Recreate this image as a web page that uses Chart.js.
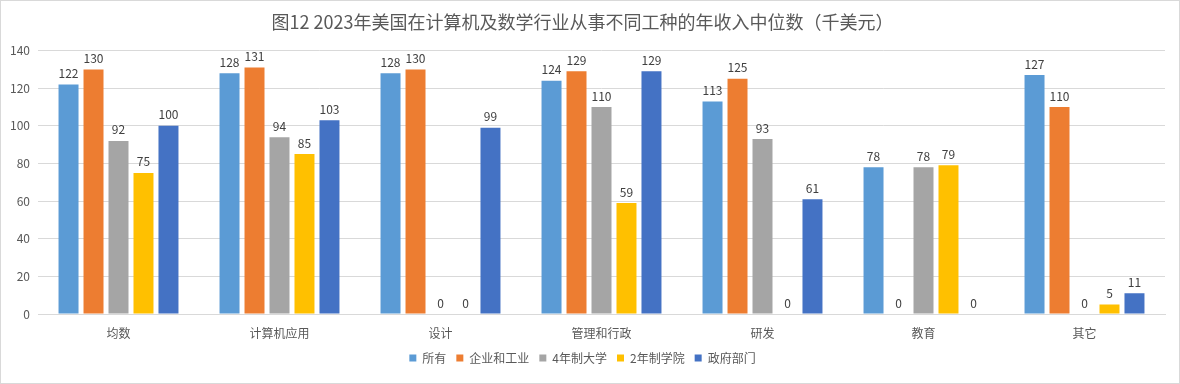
<!DOCTYPE html>
<html lang="zh">
<head>
  <meta charset="UTF-8">
  <title>图12</title>
  <script src="https://cdn.jsdelivr.net/npm/chart.js"></script>
  <style>
    body { margin: 0; background: #fff; }
  </style>
</head>
<body>
  <canvas id="salary" width="1180" height="384"></canvas>

  <script>
    const categories = ['均数', '计算机应用', '设计', '管理和行政', '研发', '教育', '其它'];
    const seriesNames = ['所有', '企业和工业', '4年制大学', '2年制学院', '政府部门'];
    const allJobs = [122, 128, 128, 124, 113, 78, 127];
    const industry = [130, 131, 130, 129, 125, 0, 110];
    const university4 = [92, 94, 0, 110, 93, 78, 0];
    const college2 = [75, 85, 0, 59, 0, 79, 5];
    const government = [100, 103, 99, 129, 61, 0, 11];
    const yTicks = [0, 20, 40, 60, 80, 100, 120, 140];
    const colors = ['#5B9BD5', '#ED7D31', '#A5A5A5', '#FFC000', '#4472C4'];

    const FONT = '"Noto Sans CJK SC", "Microsoft YaHei", sans-serif';

    // value labels above each bar (zeros too, like the Excel original)
    const valueLabels = {
      id: 'valueLabels',
      afterDatasetsDraw(chart) {
        const ctx = chart.ctx;
        ctx.save();
        ctx.font = '12px ' + FONT;
        ctx.fillStyle = '#404040';
        ctx.textAlign = 'center';
        ctx.textBaseline = 'bottom';
        chart.data.datasets.forEach((ds, i) => {
          chart.getDatasetMeta(i).data.forEach((bar, j) => {
            ctx.fillText(String(ds.data[j]), bar.x, bar.y - 5);
          });
        });
        ctx.restore();
      }
    };

    const frame = {
      id: 'frame',
      beforeDraw(chart) {
        const ctx = chart.ctx;
        ctx.save();
        ctx.fillStyle = '#fff';
        ctx.fillRect(0, 0, chart.width, chart.height);
        ctx.restore();
      },
      afterDraw(chart) {
        const ctx = chart.ctx;
        ctx.save();
        ctx.strokeStyle = '#d9d9d9';
        ctx.lineWidth = 1;
        ctx.strokeRect(0.5, 0.5, chart.width - 1, chart.height - 1);
        ctx.restore();
      }
    };

    const values = [allJobs, industry, university4, college2, government];

    new Chart(document.getElementById('salary'), {
      type: 'bar',
      data: {
        labels: categories,
        datasets: seriesNames.map((name, i) => ({
          label: name,
          data: values[i],
          backgroundColor: colors[i],
          barPercentage: 0.8,
          categoryPercentage: 0.776
        }))
      },
      options: {
        responsive: false,
        animation: false,
        layout: { padding: { left: 0, right: 15, top: 0, bottom: 10 } },
        plugins: {
          title: {
            display: true,
            text: '图12 2023年美国在计算机及数学行业从事不同工种的年收入中位数（千美元）',
            color: '#595959',
            font: { family: FONT, size: 18, weight: 'normal' },
            padding: { top: 11, bottom: 18 }
          },
          legend: {
            position: 'bottom',
            labels: {
              boxWidth: 7,
              boxHeight: 7,
              color: '#595959',
              padding: 10,
              font: { family: FONT, size: 12 }
            }
          },
          tooltip: { enabled: false }
        },
        scales: {
          x: {
            afterFit(scale) { scale.height = 28; },
            grid: { display: false, drawTicks: false },
            border: { color: '#d9d9d9' },
            ticks: { color: '#595959', padding: 12, font: { family: FONT, size: 12 } }
          },
          y: {
            min: 0,
            max: 140,
            afterBuildTicks(scale) {
              scale.ticks = yTicks.map(v => ({ value: v }));
            },
            afterFit(scale) { scale.width = 38; },
            grid: { color: '#d9d9d9', drawTicks: false },
            border: { display: false },
            ticks: { color: '#595959', padding: 8, font: { family: FONT, size: 12 } }
          }
        }
      },
      plugins: [valueLabels, frame]
    });
  </script>
</body>
</html>
